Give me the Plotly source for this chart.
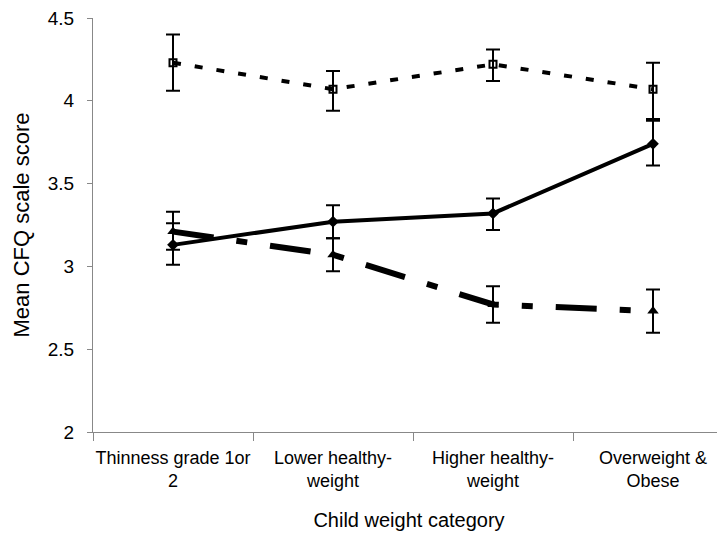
import plotly.graph_objects as go

categories = ["Thinness grade 1or<br>2", "Lower healthy-<br>weight", "Higher healthy-<br>weight", "Overweight &<br>Obese"]

# Series (means and error bar extents)
squares_mean = [4.23, 4.07, 4.22, 4.07]
squares_hi = [4.40, 4.18, 4.31, 4.23]
squares_lo = [4.06, 3.94, 4.12, 3.89]

diamonds_mean = [3.13, 3.27, 3.32, 3.74]
diamonds_hi = [3.26, 3.37, 3.41, 3.88]
diamonds_lo = [3.01, 3.17, 3.22, 3.61]

triangles_mean = [3.21, 3.07, 2.77, 2.73]
triangles_hi = [3.33, 3.17, 2.88, 2.86]
triangles_lo = [3.10, 2.97, 2.66, 2.60]

y_ticks = [2, 2.5, 3, 3.5, 4, 4.5]
y_tick_text = ["2", "2.5", "3", "3.5", "4", "4.5"]


def err(mean, hi, lo):
    return dict(type="data", symmetric=False,
                array=[h - m for h, m in zip(hi, mean)],
                arrayminus=[m - l for m, l in zip(mean, lo)],
                color="black", thickness=2, width=7)


fig = go.Figure()

fig.add_trace(go.Scatter(
    x=categories, y=diamonds_mean, mode="lines+markers",
    line=dict(color="black", width=4),
    marker=dict(symbol="diamond", size=9, color="black"),
    error_y=err(diamonds_mean, diamonds_hi, diamonds_lo),
    showlegend=False, hoverinfo="skip", cliponaxis=False))

fig.add_trace(go.Scatter(
    x=categories, y=triangles_mean, mode="lines+markers",
    line=dict(color="black", width=6, dash="41px,23px,11px,23px"),
    marker=dict(symbol="triangle-up", size=10, color="black"),
    error_y=err(triangles_mean, triangles_hi, triangles_lo),
    showlegend=False, hoverinfo="skip", cliponaxis=False))

fig.add_trace(go.Scatter(
    x=categories, y=squares_mean, mode="lines+markers",
    line=dict(color="black", width=4, dash="8px,14px"),
    marker=dict(symbol="square-open", size=7, color="black", line=dict(width=2, color="black")),
    error_y=err(squares_mean, squares_hi, squares_lo),
    showlegend=False, hoverinfo="skip", cliponaxis=False))

fig.update_layout(
    width=725, height=540,
    margin=dict(l=85, r=8, t=10, b=116),
    paper_bgcolor="white", plot_bgcolor="white",
    font=dict(family="Liberation Sans, Arial, sans-serif", color="black"),
)

fig.update_xaxes(
    type="category", range=[-0.5, 3.45], automargin=False,
    tickson="boundaries", ticks="outside", ticklen=8, tickcolor="#888888",
    tickangle=0, ticklabelstandoff=9, ticklabeloverflow="allow",
    showline=True, linecolor="#888888", linewidth=1,
    showgrid=False, zeroline=False,
    tickfont=dict(size=18, color="black"),
    title=dict(text="Child weight category", font=dict(size=20), standoff=22),
)

fig.update_yaxes(
    range=[2, 4.5], tickvals=y_ticks, ticktext=y_tick_text, automargin=False,
    ticks="outside", ticklen=5, tickcolor="#888888",
    ticklabelstandoff=9, ticklabeloverflow="allow",
    showline=True, linecolor="#888888", linewidth=1,
    showgrid=False, zeroline=False,
    tickfont=dict(size=19, color="black"),
    title=dict(text="Mean CFQ scale score", font=dict(size=22), standoff=12),
)

fig.write_html("out.html")
